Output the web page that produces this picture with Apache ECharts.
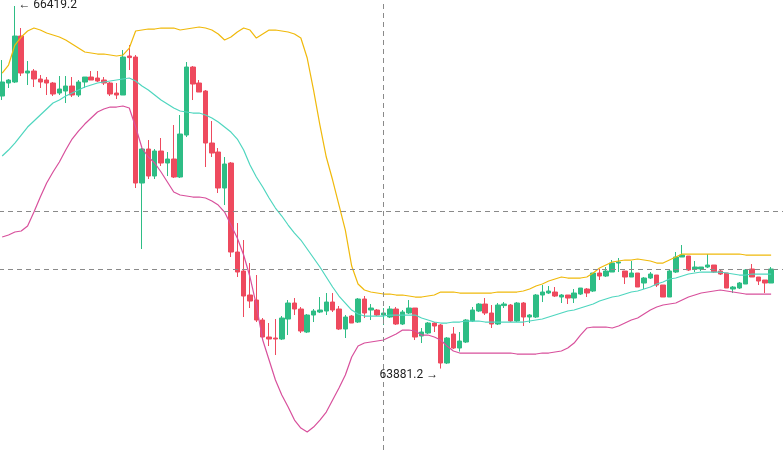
<!DOCTYPE html>
<html>
<head>
  <meta charset="utf-8">
  <title>Candles</title>
  <script src="https://cdn.jsdelivr.net/npm/echarts@6/dist/echarts.min.js"></script>
  <style>
    html, body { margin: 0; padding: 0; background: #fff; }
  </style>
</head>
<body>
  <div id="main" style="width:783px; height:450px;"></div>
  <script type="text/javascript">
    const opens = [
      65789, 65880, 65887, 66209, 65950, 65964, 65908, 65901, 65880, 65810,
      65824, 65859, 65796, 65887, 65922, 65915, 65901, 65880, 65810, 65796,
      66069, 66062, 65180, 65418, 65229, 65404, 65320, 65348, 65222, 65516,
      65992, 65880, 65824, 65460, 65397, 65145, 65320, 64697, 64564, 64396,
      64361, 64221, 64102, 64095, 64088, 64228, 64340, 64298, 64137, 64256,
      64277, 64284, 64347, 64298, 64158, 64249, 64207, 64368, 64291, 64291,
      64256, 64242, 64298, 64193, 64270, 64305, 64109, 64130, 64200, 64186,
      63920, 64123, 64025, 64067, 64214, 64284, 64333, 64270, 64193, 64322,
      64326, 64214, 64340, 64242, 64242, 64396, 64410, 64417, 64382, 64396,
      64375, 64403, 64438, 64424, 64550, 64529, 64557, 64620, 64564, 64522,
      64550, 64480, 64515, 64536, 64466, 64382, 64557, 64662, 64669, 64578,
      64578, 64592, 64606, 64564, 64550, 64438, 64445, 64473, 64578, 64522,
      64501, 64480
    ];
    const closes = [
      65887, 65901, 66209, 65950, 65964, 65908, 65887, 65880, 65803, 65838,
      65859, 65796, 65887, 65922, 65901, 65894, 65880, 65803, 65796, 66062,
      66058, 65180, 65418, 65229, 65404, 65320, 65348, 65222, 65523, 65992,
      65873, 65817, 65460, 65390, 65145, 65313, 64697, 64557, 64389, 64354,
      64221, 64102, 64088, 64088, 64235, 64340, 64298, 64144, 64256, 64284,
      64291, 64347, 64291, 64158, 64242, 64200, 64368, 64270, 64305, 64256,
      64270, 64298, 64193, 64277, 64305, 64102, 64137, 64200, 64179, 63920,
      64095, 64025, 64074, 64221, 64291, 64333, 64270, 64193, 64326, 64333,
      64214, 64340, 64242, 64256, 64396, 64417, 64424, 64389, 64396, 64375,
      64410, 64445, 64410, 64550, 64529, 64564, 64620, 64627, 64522, 64550,
      64452, 64515, 64543, 64466, 64382, 64564, 64662, 64676, 64571, 64592,
      64592, 64606, 64557, 64543, 64445, 64452, 64480, 64571, 64522, 64494,
      64480, 64578
    ];
    const lows = [
      65761, 65845, 65880, 65929, 65866, 65852, 65845, 65796, 65789, 65796,
      65740, 65782, 65782, 65845, 65901, 65887, 65866, 65789, 65768, 65796,
      65971, 65145, 64718, 65208, 65208, 65299, 65229, 65215, 65215, 65502,
      65761, 65817, 65292, 65362, 65110, 65026, 64662, 64522, 64242, 64305,
      64207, 64095, 64039, 63976, 64081, 64116, 64256, 64130, 64130, 64207,
      64270, 64256, 64277, 64151, 64095, 64200, 64200, 64235, 64221, 64249,
      64186, 64235, 64186, 64186, 64263, 64081, 64060, 64123, 64137, 63881.2,
      63913, 64018, 64000, 64060, 64207, 64277, 64256, 64165, 64186, 64305,
      64207, 64207, 64179, 64200, 64235, 64347, 64403, 64382, 64340, 64333,
      64340, 64396, 64382, 64417, 64501, 64522, 64557, 64557, 64473, 64522,
      64452, 64438, 64508, 64452, 64382, 64382, 64550, 64662, 64564, 64557,
      64564, 64585, 64550, 64536, 64445, 64410, 64438, 64473, 64522, 64466,
      64410, 64480
    ];
    const highs = [
      66041, 65908, 66419.2, 66265, 66034, 65978, 65936, 65922, 65887, 65929,
      65929, 65922, 65901, 65922, 65964, 65964, 65922, 65887, 65880, 66111,
      66146, 66076, 65425, 65481, 65418, 65495, 65397, 65586, 65656, 66027,
      65999, 65901, 65831, 65614, 65425, 65362, 65327, 64900, 64781, 64620,
      64536, 64235, 64200, 64228, 64249, 64361, 64375, 64312, 64263, 64298,
      64382, 64410, 64410, 64319, 64256, 64256, 64375, 64389, 64333, 64298,
      64305, 64319, 64312, 64291, 64361, 64305, 64165, 64207, 64207, 64193,
      64102, 64172, 64137, 64228, 64312, 64340, 64375, 64326, 64340, 64347,
      64333, 64347, 64347, 64263, 64403, 64466, 64459, 64452, 64403, 64396,
      64438, 64445, 64445, 64550, 64578, 64592, 64641, 64655, 64564, 64634,
      64550, 64522, 64557, 64536, 64466, 64578, 64697, 64746, 64669, 64634,
      64592, 64683, 64606, 64571, 64550, 64459, 64487, 64578, 64613, 64522,
      64501, 64592
    ];

    // bollinger bands
    const upperBand = [
      65950, 66006, 66146, 66202, 66244, 66265, 66251, 66230, 66216, 66202,
      66181, 66153, 66125, 66097, 66090, 66083, 66083, 66076, 66069, 66076,
      66125, 66244, 66251, 66258, 66258, 66265, 66265, 66265, 66251, 66258,
      66265, 66272, 66265, 66251, 66223, 66181, 66202, 66237, 66265, 66251,
      66195, 66223, 66251, 66251, 66244, 66237, 66223, 66195, 66055, 65831,
      65586, 65362, 65201, 65026, 64851, 64599, 64473, 64431, 64417, 64410,
      64403, 64403, 64396, 64396, 64389, 64382, 64382, 64389, 64396, 64417,
      64417, 64417, 64410, 64410, 64410, 64410, 64410, 64410, 64417, 64417,
      64417, 64417, 64424, 64438, 64459, 64473, 64494, 64508, 64522, 64515,
      64515, 64515, 64522, 64550, 64585, 64606, 64627, 64634, 64641, 64641,
      64648, 64641, 64634, 64620, 64620, 64641, 64662, 64683, 64683, 64683,
      64683, 64683, 64683, 64683, 64683, 64683, 64683, 64676, 64676, 64676,
      64676, 64676
    ];
    const middleBand = [
      65369, 65411, 65460, 65516, 65572, 65614, 65656, 65698, 65740, 65761,
      65789, 65810, 65831, 65852, 65866, 65880, 65887, 65894, 65901, 65908,
      65915, 65894, 65859, 65831, 65796, 65761, 65733, 65705, 65684, 65677,
      65670, 65670, 65656, 65635, 65607, 65572, 65537, 65488, 65411, 65306,
      65222, 65152, 65075, 65005, 64949, 64886, 64830, 64781, 64718, 64655,
      64592, 64522, 64452, 64389, 64340, 64291, 64263, 64249, 64249, 64249,
      64249, 64256, 64256, 64256, 64256, 64256, 64235, 64221, 64207, 64200,
      64200, 64207, 64207, 64214, 64214, 64214, 64207, 64207, 64207, 64207,
      64207, 64207, 64207, 64214, 64221, 64228, 64242, 64256, 64270, 64284,
      64291, 64305, 64319, 64333, 64354, 64368, 64382, 64389, 64403, 64417,
      64424, 64438, 64452, 64473, 64487, 64508, 64515, 64529, 64543, 64550,
      64557, 64557, 64557, 64557, 64550, 64543, 64536, 64536, 64543, 64543,
      64543, 64543
    ];
    const lowerBand = [
      64802, 64816, 64837, 64844, 64879, 64977, 65082, 65180, 65257, 65327,
      65411, 65488, 65544, 65593, 65635, 65677, 65698, 65712, 65712, 65719,
      65705, 65572, 65425, 65362, 65320, 65257, 65187, 65117, 65096, 65089,
      65082, 65082, 65075, 65054, 65026, 64977, 64886, 64795, 64676, 64522,
      64326, 64081, 63941, 63801, 63696, 63612, 63521, 63465, 63437, 63472,
      63521, 63577, 63661, 63745, 63836, 63962, 64039, 64060, 64067, 64074,
      64081, 64102, 64123, 64151, 64151, 64144, 64116, 64116, 64102, 64081,
      64039, 64004, 63990, 63990, 63990, 63990, 63990, 63990, 63990, 63990,
      63990, 63983, 63983, 63983, 63983, 63990, 63990, 63997, 64004, 64025,
      64060, 64116, 64165, 64172, 64172, 64172, 64165, 64179, 64200, 64221,
      64235, 64263, 64291, 64312, 64326, 64333, 64340, 64361, 64382, 64396,
      64410, 64417, 64424, 64431, 64424, 64417, 64410, 64403, 64403, 64403,
      64403, 64403
    ];

    const highLabel = '\u2190 66419.2';
    const lowLabel = '63881.2 \u2192';
    const crossIndex = 60;
    const crossLevels = [64984.2, 64578.2];

    const chart = echarts.init(document.getElementById('main'));

    // two spare slots on the right so the grid runs past the edge
    const slots = opens.length + 2;
    const categories = [];
    for (let i = 0; i < slots; i++) categories.push(String(i));

    const candles = opens.map((o, i) => [o, closes[i], lows[i], highs[i]]);

    const dashed = { color: '#8a8a8a', width: 1, type: [5, 4] };

    const option = {
      animation: false,
      backgroundColor: '#fff',
      grid: { left: -1, top: 0, width: 788, height: 450, outerBoundsMode: 'none', containLabel: false },
      xAxis: {
        type: 'category',
        data: categories,
        boundaryGap: true,
        show: false
      },
      yAxis: {
        type: 'value',
        min: 63311.2,
        max: 66461.2,
        show: false
      },
      series: [
        {
          type: 'candlestick',
          data: candles,
          barWidth: 5,
          itemStyle: {
            color: '#2ebd85',
            color0: '#ee4a5e',
            borderColor: '#2ebd85',
            borderColor0: '#ee4a5e',
            borderWidth: 1
          },
          markLine: {
            silent: true,
            symbol: ['none', 'none'],
            label: { show: false },
            lineStyle: dashed,
            data: [
              { xAxis: crossIndex },
              { yAxis: crossLevels[0] },
              { yAxis: crossLevels[1] }
            ]
          },
          markPoint: {
            silent: true,
            symbol: 'circle',
            symbolSize: 1,
            itemStyle: { color: 'rgba(0,0,0,0)' },
            data: [
              {
                coord: [2, 66419.2],
                label: {
                  show: true, position: 'right', distance: 3,
                  formatter: highLabel, color: '#1e1e1e', fontSize: 12,
                  fontFamily: 'Roboto, sans-serif', offset: [0, -1]
                }
              },
              {
                coord: [69, 63881.2],
                label: {
                  show: true, position: 'left', distance: 2,
                  formatter: lowLabel, color: '#1e1e1e', fontSize: 12,
                  fontFamily: 'Roboto, sans-serif', offset: [0, 6]
                }
              }
            ]
          }
        },
        {
          type: 'line', data: upperBand, showSymbol: false, silent: true,
          lineStyle: { color: '#f0b90b', width: 1.2 }
        },
        {
          type: 'line', data: middleBand, showSymbol: false, silent: true,
          lineStyle: { color: '#4fd6bf', width: 1.2 }
        },
        {
          type: 'line', data: lowerBand, showSymbol: false, silent: true,
          lineStyle: { color: '#d8509c', width: 1.2 }
        }
      ]
    };

    chart.setOption(option);
  </script>
</body>
</html>
